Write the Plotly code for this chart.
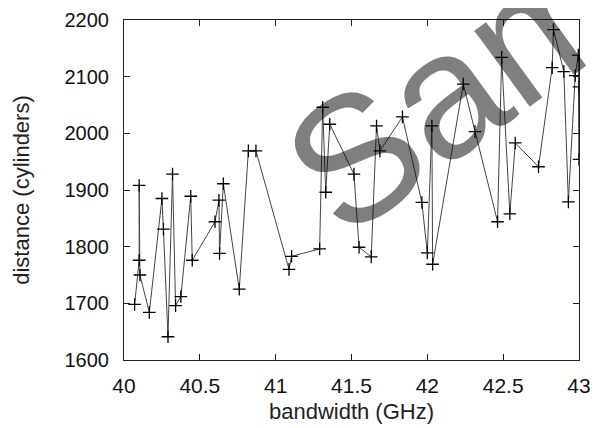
import plotly.graph_objects as go

bandwidth = [40.07, 40.10, 40.10, 40.105, 40.167, 40.25, 40.26, 40.29, 40.32, 40.34,
             40.375, 40.44, 40.45, 40.60, 40.626, 40.63, 40.655, 40.76, 40.82, 40.87,
             41.088, 41.105, 41.29, 41.31, 41.33, 41.357, 41.516, 41.55, 41.63, 41.665,
             41.687, 41.836, 41.964, 42.0, 42.03, 42.035, 42.237, 42.314, 42.463, 42.49,
             42.544, 42.58, 42.733, 42.823, 42.832, 42.90, 42.93, 42.975, 42.995, 43.0, 43.0]
distance = [1698, 1776, 1908, 1750, 1684, 1885, 1831, 1641, 1928, 1696,
            1712, 1889, 1776, 1844, 1882, 1788, 1911, 1725, 1969, 1969,
            1760, 1783, 1796, 2046, 1896, 2016, 1928, 1799, 1782, 2013,
            1969, 2029, 1878, 1789, 2013, 1769, 2087, 2003, 1844, 2134,
            1858, 1983, 1941, 2116, 2183, 2109, 1879, 2102, 2138, 1954, 2082]

x_ticks = [40, 40.5, 41, 41.5, 42, 42.5, 43]
y_ticks = [1600, 1700, 1800, 1900, 2000, 2100, 2200]

font_family = "Liberation Sans, Arial, sans-serif"

fig = go.Figure()
fig.add_trace(go.Scatter(
    x=bandwidth, y=distance, mode="lines+markers",
    line=dict(color="#444444", width=1),
    marker=dict(symbol="cross-thin", size=9, line=dict(color="black", width=1.3)),
    showlegend=False,
))

fig.add_annotation(
    x=0.941, y=1.015, xref="paper", yref="paper", text="Sample", showarrow=False,
    textangle=-36, font=dict(family=font_family, size=178, color="rgba(0,0,0,0.5)"),
    xanchor="center", yanchor="middle",
)

axis_common = dict(
    showgrid=False, zeroline=False, showline=True, linecolor="#222222", linewidth=1,
    mirror="ticks", ticks="inside", ticklen=6, tickcolor="#222222", tickwidth=1,
)

fig.update_xaxes(range=[40, 43], tickvals=x_ticks, ticktext=[f"{v:g}" for v in x_ticks],
                 tickfont=dict(family=font_family, size=21, color="#111111"),
                 ticklabelstandoff=7,
                 title=dict(text="bandwidth (GHz)", font=dict(family=font_family, size=22, color="#222222"), standoff=7),
                 **axis_common)
fig.update_yaxes(range=[1600, 2200], tickvals=y_ticks,
                 tickfont=dict(family=font_family, size=20, color="#111111"),
                 ticklabelstandoff=10,
                 title=dict(text="distance (cylinders)", font=dict(family=font_family, size=22, color="#222222"), standoff=28),
                 **axis_common)

fig.update_layout(
    width=590, height=420,
    margin=dict(l=116, r=19, t=12, b=68, autoexpand=False),
    plot_bgcolor="white", paper_bgcolor="white",
)

fig.write_html("out.html")
